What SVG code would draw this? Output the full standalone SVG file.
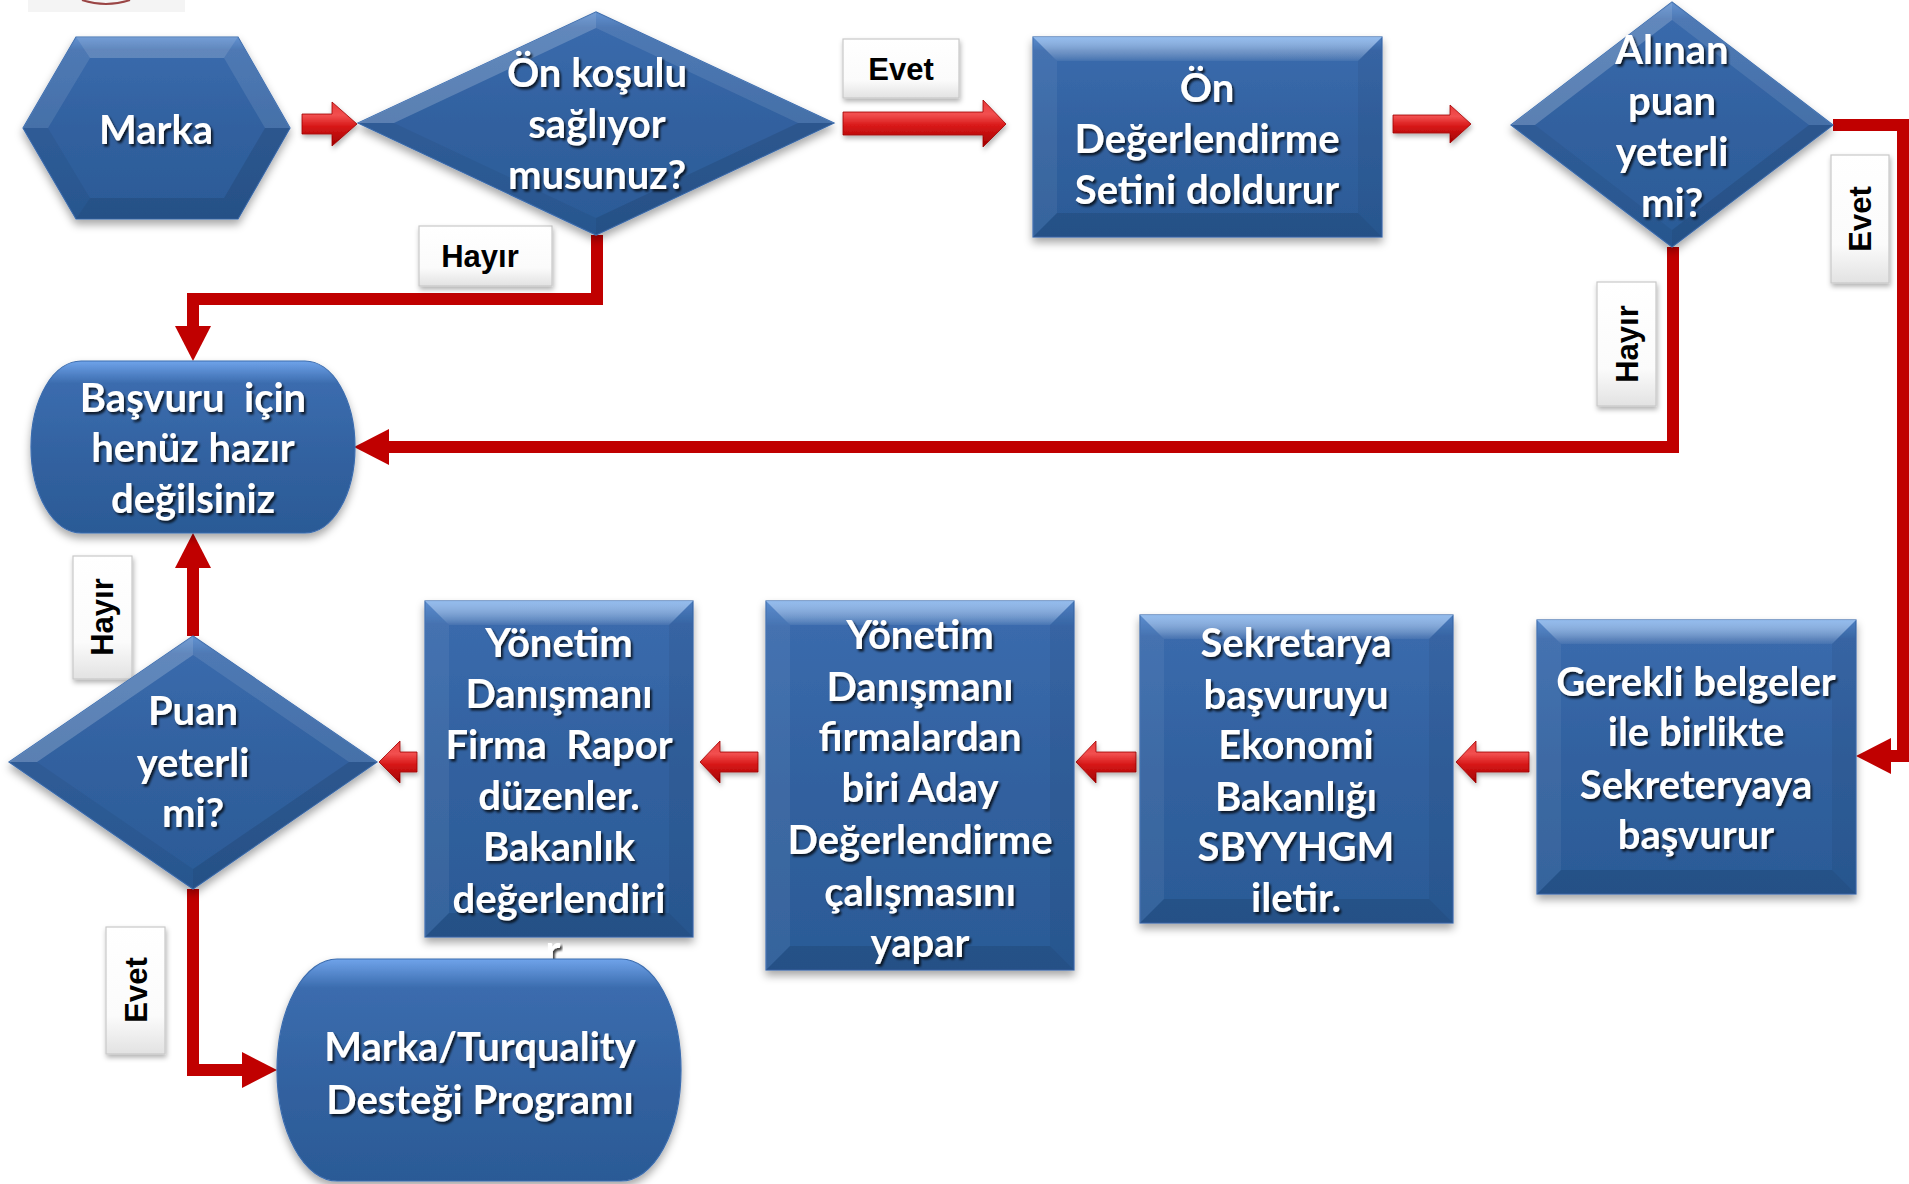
<svg xmlns="http://www.w3.org/2000/svg" width="1909" height="1184" viewBox="0 0 1909 1184">
<style>
.node{fill:url(#gBlue);stroke:#3b6cae;stroke-width:1.2;filter:url(#sh)}
.term{fill:url(#gTerm);stroke:#3b6cae;stroke-width:1.2;filter:url(#sh)}
.bvT{fill:url(#gBevT)}
.bvB{fill:#000;fill-opacity:.10}
.bvL{fill:#fff;fill-opacity:.06}
.bvR{fill:#000;fill-opacity:.05}
.fl1{fill:#fff;fill-opacity:.20}
.fl2{fill:#fff;fill-opacity:.10}
.fd1{fill:#000;fill-opacity:.10}
.fd2{fill:#000;fill-opacity:.05}
.t{font-family:Lato,"Open Sans","Liberation Sans",sans-serif;font-weight:700;font-size:40px;fill:#fff;text-anchor:middle;filter:url(#ts)}
.lab{font-family:"Liberation Sans",Arial,sans-serif;font-weight:700;font-size:31px;fill:#000;text-anchor:middle}
.lbox{fill:url(#gLab);stroke:#c9c9c9;stroke-width:1.2;filter:url(#sh2)}
.conn{fill:none;stroke:#C00000;stroke-width:12;stroke-linejoin:miter;marker-end:url(#ah)}
.barrow{fill:url(#gRed);stroke:#a00000;stroke-width:.8;filter:url(#sh2)}
</style>
<defs>
<linearGradient id="gBlue" x1="0" y1="0" x2="0" y2="1">
<stop offset="0" stop-color="#5286cc"/>
<stop offset="0.07" stop-color="#3a6aac"/>
<stop offset="0.5" stop-color="#31619f"/>
<stop offset="1" stop-color="#2b5a96"/>
</linearGradient>
<linearGradient id="gTerm" x1="0" y1="0" x2="0" y2="1">
<stop offset="0" stop-color="#6fa3ea"/>
<stop offset="0.13" stop-color="#3b6cae"/>
<stop offset="0.6" stop-color="#31619f"/>
<stop offset="1" stop-color="#2b5a96"/>
</linearGradient>
<linearGradient id="gBevT" x1="0" y1="0" x2="0" y2="1">
<stop offset="0" stop-color="#a9cdf8" stop-opacity=".75"/>
<stop offset="1" stop-color="#ffffff" stop-opacity=".06"/>
</linearGradient>
<linearGradient id="gLab" x1="0" y1="0" x2="0" y2="1">
<stop offset="0" stop-color="#ffffff"/>
<stop offset="0.7" stop-color="#fbfbfb"/>
<stop offset="1" stop-color="#e2e2e2"/>
</linearGradient>
<linearGradient id="gRed" x1="0" y1="0" x2="0" y2="1">
<stop offset="0" stop-color="#e83a3a"/>
<stop offset="0.3" stop-color="#f25050"/>
<stop offset="0.55" stop-color="#d81818"/>
<stop offset="1" stop-color="#a00000"/>
</linearGradient>
<filter id="sh" x="-10%" y="-10%" width="120%" height="125%">
<feDropShadow dx="0" dy="5" stdDeviation="4" flood-color="#000" flood-opacity=".35"/>
</filter>
<filter id="sh2" x="-20%" y="-20%" width="140%" height="150%">
<feDropShadow dx="1" dy="3" stdDeviation="2.5" flood-color="#000" flood-opacity=".3"/>
</filter>
<filter id="ts" x="-10%" y="-20%" width="120%" height="150%">
<feDropShadow dx="2" dy="2.5" stdDeviation="1.3" flood-color="#000" flood-opacity=".75"/>
</filter>
<marker id="ah" viewBox="0 0 35 36" refX="0" refY="18" markerWidth="35" markerHeight="36" markerUnits="userSpaceOnUse" orient="auto">
<path d="M0,0 L35,18 L0,36 z" fill="#C00000"/>
</marker>
</defs>
<rect width="1909" height="1184" fill="#fff"/>

<g id="logo-fragment">
<rect x="28" y="0" width="157" height="12" fill="#f4f4f4"/>
<path d="M82,0 Q106,8 130,0" fill="none" stroke="#9a4545" stroke-width="2"/>
</g>

<g id="connectors">
<path class="conn" d="M597,235 V299 H193 V326"/>
<path class="conn" d="M1673,247 V447 H389"/>
<path class="conn" d="M1833,125 H1903 V756 H1891"/>
<path class="conn" d="M193,636 V568"/>
<path class="conn" d="M193,889 V1070 H242"/>
<polygon class="barrow" points="302,114 332,114 332,102 357,124 332,146 332,134 302,134"/>
<polygon class="barrow" points="843,112 983,112 983,100 1006,124 983,147 983,135 843,135"/>
<polygon class="barrow" points="1393,115 1450,115 1450,105 1471,124 1450,143 1450,133 1393,133"/>
<polygon class="barrow" points="1529,752 1476,752 1476,741 1456,762 1476,783 1476,772 1529,772"/>
<polygon class="barrow" points="1136,752 1096,752 1096,741 1076,762 1096,783 1096,772 1136,772"/>
<polygon class="barrow" points="758,752 720,752 720,741 700,762 720,783 720,772 758,772"/>
<polygon class="barrow" points="417,752 400,752 400,741 379,762 400,783 400,772 417,772"/>
</g>

<g id="labels">
<g id="lbl-evet-1"><rect class="lbox" x="843" y="39" width="116" height="59"/><text class="lab" x="901" y="80">Evet</text></g>
<g id="lbl-hayir-1"><rect class="lbox" x="419" y="226" width="133" height="60"/><text class="lab" x="480" y="267">Hayır</text></g>
<g id="lbl-evet-2"><rect class="lbox" x="1831" y="155" width="58" height="128"/><text class="lab" x="1860" y="230" transform="rotate(-90 1860 219)">Evet</text></g>
<g id="lbl-hayir-2"><rect class="lbox" x="1597" y="282" width="59" height="124"/><text class="lab" x="1627" y="355" transform="rotate(-90 1627 344)">Hayır</text></g>
<g id="lbl-hayir-3"><rect class="lbox" x="73" y="556" width="59" height="123"/><text class="lab" x="102" y="628" transform="rotate(-90 102 617)">Hayır</text></g>
<g id="lbl-evet-3"><rect class="lbox" x="106" y="927" width="59" height="127"/><text class="lab" x="136" y="1001" transform="rotate(-90 136 990)">Evet</text></g>
</g>

<g id="n-marka">
<polygon class="node" points="23,128 76,37 238,37 290,128 238,219 76,219"/>
<polygon class="fl1" points="76,37 238,37 224,58 90,58"/>
<polygon class="fl2" points="23,128 76,37 90,58 48,128"/>
<polygon class="fl2" points="238,37 290,128 265,128 224,58"/>
<polygon class="fd1" points="290,128 238,219 224,198 265,128"/>
<polygon class="fd1" points="238,219 76,219 90,198 224,198"/>
<polygon class="fd2" points="76,219 23,128 48,128 90,198"/>
<text class="t" x="156" y="144">Marka</text>
</g>

<g id="n-onkosul">
<polygon class="node" points="358,123 596,12 834,123 596,235"/>
<polygon class="fl1" points="358,123 596,12 596,28 394,123"/>
<polygon class="fl2" points="596,12 834,123 798,123 596,28"/>
<polygon class="fd1" points="834,123 596,235 596,218 798,123"/>
<polygon class="fd2" points="358,123 394,123 596,218 596,235"/>
<text class="t" x="597" y="87">Ön koşulu</text>
<text class="t" x="597" y="138">sağlıyor</text>
<text class="t" x="597" y="189">musunuz?</text>
</g>

<g id="n-ondeg">
<rect class="node" x="1033" y="37" width="349" height="200"/>
<polygon class="bvT" points="1033,37 1382,37 1358,61 1057,61"/>
<polygon class="bvB" points="1033,237 1382,237 1358,213 1057,213"/>
<polygon class="bvL" points="1033,37 1057,61 1057,213 1033,237"/>
<polygon class="bvR" points="1382,37 1358,61 1358,213 1382,237"/>
<text class="t" x="1207" y="102">Ön</text>
<text class="t" x="1207" y="153">Değerlendirme</text>
<text class="t" x="1207" y="204">Setini doldurur</text>
</g>

<g id="n-alinan">
<polygon class="node" points="1511,125 1672,2 1833,125 1672,247"/>
<polygon class="fl1" points="1511,125 1672,2 1672,20 1535,125"/>
<polygon class="fl2" points="1672,2 1833,125 1809,125 1672,20"/>
<polygon class="fd1" points="1833,125 1672,247 1672,230 1809,125"/>
<polygon class="fd2" points="1511,125 1535,125 1672,230 1672,247"/>
<text class="t" x="1672" y="64">Alınan</text>
<text class="t" x="1672" y="115">puan</text>
<text class="t" x="1672" y="166">yeterli</text>
<text class="t" x="1672" y="217">mi?</text>
</g>

<g id="n-basvuru">
<rect class="term" x="31" y="361" width="324" height="172" rx="50" ry="86"/>
<text class="t" x="193" y="412" xml:space="preserve">Başvuru  için</text>
<text class="t" x="193" y="462">henüz hazır</text>
<text class="t" x="193" y="513">değilsiniz</text>
</g>

<g id="n-puan">
<polygon class="node" points="9,762 193,636 377,762 193,889"/>
<polygon class="fl1" points="9,762 193,636 193,655 37,762"/>
<polygon class="fl2" points="193,636 377,762 349,762 193,655"/>
<polygon class="fd1" points="377,762 193,889 193,869 349,762"/>
<polygon class="fd2" points="9,762 37,762 193,869 193,889"/>
<text class="t" x="193" y="725">Puan</text>
<text class="t" x="193" y="777">yeterli</text>
<text class="t" x="193" y="827">mi?</text>
</g>

<g id="n-rapor">
<rect class="node" x="425" y="601" width="268" height="336"/>
<polygon class="bvT" points="425,601 693,601 669,625 449,625"/>
<polygon class="bvB" points="425,937 693,937 669,913 449,913"/>
<polygon class="bvL" points="425,601 449,625 449,913 425,937"/>
<polygon class="bvR" points="693,601 669,625 669,913 693,937"/>
<text class="t" x="559" y="657">Yönetim</text>
<text class="t" x="559" y="708">Danışmanı</text>
<text class="t" x="559" y="759" xml:space="preserve">Firma  Rapor</text>
<text class="t" x="559" y="810">düzenler.</text>
<text class="t" x="559" y="861">Bakanlık</text>
<text class="t" x="559" y="913">değerlendiri</text>
<text class="t" x="553" y="964">r</text>
</g>

<g id="n-aday">
<rect class="node" x="766" y="601" width="308" height="369"/>
<polygon class="bvT" points="766,601 1074,601 1050,625 790,625"/>
<polygon class="bvB" points="766,970 1074,970 1050,946 790,946"/>
<polygon class="bvL" points="766,601 790,625 790,946 766,970"/>
<polygon class="bvR" points="1074,601 1050,625 1050,946 1074,970"/>
<text class="t" x="920" y="649">Yönetim</text>
<text class="t" x="920" y="701">Danışmanı</text>
<text class="t" x="920" y="751">firmalardan</text>
<text class="t" x="920" y="802">biri Aday</text>
<text class="t" x="920" y="854">Değerlendirme</text>
<text class="t" x="920" y="906">çalışmasını</text>
<text class="t" x="920" y="957">yapar</text>
</g>

<g id="n-sekretarya">
<rect class="node" x="1140" y="615" width="313" height="308"/>
<polygon class="bvT" points="1140,615 1453,615 1429,639 1164,639"/>
<polygon class="bvB" points="1140,923 1453,923 1429,899 1164,899"/>
<polygon class="bvL" points="1140,615 1164,639 1164,899 1140,923"/>
<polygon class="bvR" points="1453,615 1429,639 1429,899 1453,923"/>
<text class="t" x="1296" y="657">Sekretarya</text>
<text class="t" x="1296" y="709">başvuruyu</text>
<text class="t" x="1296" y="759">Ekonomi</text>
<text class="t" x="1296" y="811">Bakanlığı</text>
<text class="t" x="1296" y="861">SBYYHGM</text>
<text class="t" x="1296" y="912">iletir.</text>
</g>

<g id="n-gerekli">
<rect class="node" x="1537" y="620" width="319" height="274"/>
<polygon class="bvT" points="1537,620 1856,620 1832,644 1561,644"/>
<polygon class="bvB" points="1537,894 1856,894 1832,870 1561,870"/>
<polygon class="bvL" points="1537,620 1561,644 1561,870 1537,894"/>
<polygon class="bvR" points="1856,620 1832,644 1832,870 1856,894"/>
<text class="t" x="1696" y="696">Gerekli belgeler</text>
<text class="t" x="1696" y="746">ile birlikte</text>
<text class="t" x="1696" y="799">Sekreteryaya</text>
<text class="t" x="1696" y="849">başvurur</text>
</g>

<g id="n-turquality">
<rect class="term" x="277" y="959" width="404" height="222" rx="60" ry="111"/>
<text class="t" x="480" y="1061">Marka/Turquality</text>
<text class="t" x="480" y="1114">Desteği Programı</text>
</g>
</svg>
